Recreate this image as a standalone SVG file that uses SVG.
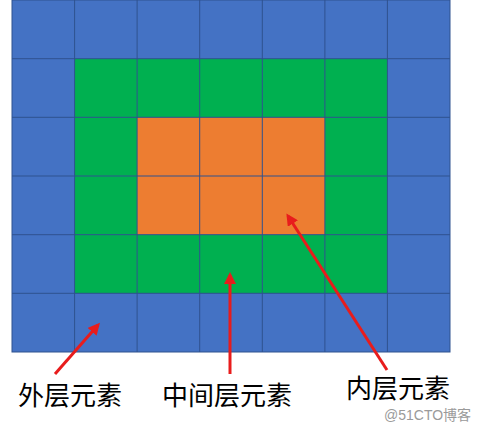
<svg xmlns="http://www.w3.org/2000/svg" width="492" height="427" viewBox="0 0 492 427">
<style>
.cell{stroke:#2F528F;stroke-width:1}
.b{fill:#4472C4}.g{fill:#00B050}.o{fill:#ED7D31}
.arrow{stroke:#E81C1C;stroke-width:3;fill:none;marker-end:url(#ah)}
.lbl{font-family:"Liberation Sans","Noto Sans CJK SC",sans-serif;font-size:26px;fill:#000}
.wm{font-family:"Liberation Sans","Noto Sans CJK SC",sans-serif;font-size:14px;fill:#9a9a9a}
</style>
<defs>
<marker id="ah" markerWidth="4" markerHeight="4" refX="3" refY="2" orient="auto" markerUnits="strokeWidth">
<path d="M0,0 L4,2 L0,4 Z" fill="#E81C1C"/>
</marker>
</defs>
<g id="grid">
<rect class="cell b" x="12" y="0" width="438" height="352"/>
<rect class="g" x="74.6" y="58.7" width="313" height="234.6"/>
<rect class="o" x="137.1" y="117.3" width="187.8" height="117.4"/>
<g stroke="#2F528F" stroke-width="1">
<line x1="74.6" y1="0" x2="74.6" y2="352"/>
<line x1="137.1" y1="0" x2="137.1" y2="352"/>
<line x1="199.7" y1="0" x2="199.7" y2="352"/>
<line x1="262.3" y1="0" x2="262.3" y2="352"/>
<line x1="324.9" y1="0" x2="324.9" y2="352"/>
<line x1="387.4" y1="0" x2="387.4" y2="352"/>
<line x1="12" y1="58.7" x2="450" y2="58.7"/>
<line x1="12" y1="117.3" x2="450" y2="117.3"/>
<line x1="12" y1="176" x2="450" y2="176"/>
<line x1="12" y1="234.7" x2="450" y2="234.7"/>
<line x1="12" y1="293.3" x2="450" y2="293.3"/>
</g>
</g>
<g id="connectors">
<line class="arrow" x1="55" y1="374" x2="98" y2="325"/>
<line class="arrow" x1="230" y1="374" x2="230" y2="275"/>
<line class="arrow" x1="387" y1="370" x2="288" y2="216"/>
</g>
<g id="label-outer"><text class="lbl" x="18" y="405">外层元素</text></g>
<g id="label-middle"><text class="lbl" x="162" y="405">中间层元素</text></g>
<g id="label-inner"><text class="lbl" x="346" y="398">内层元素</text></g>
<text class="wm" x="384" y="420">@51CTO博客</text>
</svg>
